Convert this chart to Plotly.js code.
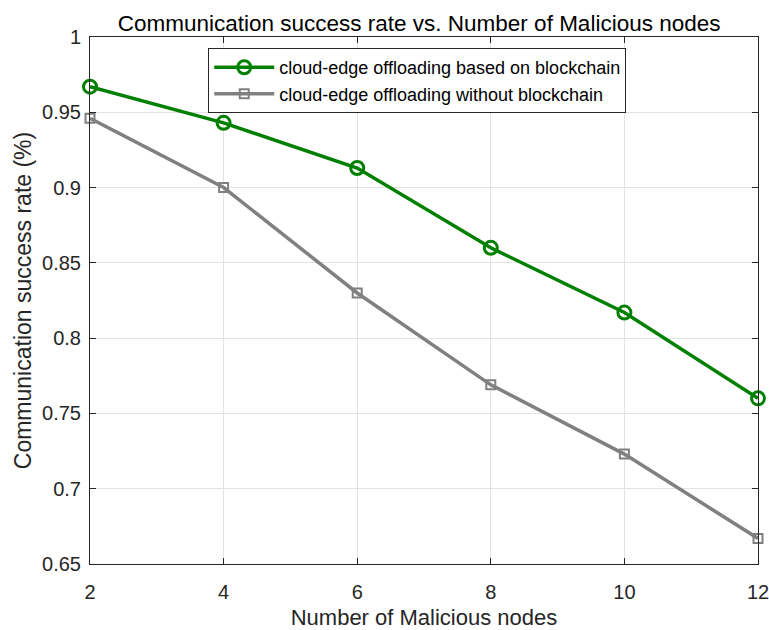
<!DOCTYPE html>
<html>
<head>
<meta charset="utf-8">
<script src="https://cdn.plot.ly/plotly-3.0.1.min.js"></script>
<style>
  html, body { margin: 0; padding: 0; background: #fff; }
  #chart { width: 769px; height: 630px; }
</style>
</head>
<body>
<div id="chart"></div>
<script>
// Number of malicious nodes in the network
const maliciousNodes = [2, 4, 6, 8, 10, 12];
// Communication success rate with blockchain-based offloading
const withBlockchain = [0.967, 0.943, 0.913, 0.860, 0.817, 0.760];
// Communication success rate without blockchain
const withoutBlockchain = [0.946, 0.900, 0.830, 0.769, 0.723, 0.667];

const xTicks = [2, 4, 6, 8, 10, 12];
const yTicks = [0.65, 0.7, 0.75, 0.8, 0.85, 0.9, 0.95, 1];
const yTickText = ['0.65', '0.7', '0.75', '0.8', '0.85', '0.9', '0.95', '1'];

const fontFamily = 'Arial, "Liberation Sans", Helvetica, sans-serif';

const traces = [
  {
    x: maliciousNodes,
    y: withBlockchain,
    name: 'cloud-edge offloading based on blockchain',
    mode: 'lines+markers',
    line: { color: '#008000', width: 3.5 },
    marker: { symbol: 'circle-open', size: 13, color: '#008000', line: { width: 3, color: '#008000' } },
    cliponaxis: false
  },
  {
    x: maliciousNodes,
    y: withoutBlockchain,
    name: 'cloud-edge offloading without blockchain',
    mode: 'lines+markers',
    line: { color: '#808080', width: 3.5 },
    marker: { symbol: 'square-open', size: 9, color: '#808080', line: { width: 2, color: '#808080' } },
    cliponaxis: false
  }
];

const axisCommon = {
  showline: true,
  linecolor: '#262626',
  linewidth: 1,
  mirror: 'ticks',
  ticks: 'inside',
  ticklen: 6,
  tickcolor: '#262626',
  showgrid: true,
  gridcolor: '#e3e3e3',
  gridwidth: 1,
  zeroline: false,
  ticklabeloverflow: 'allow',
  tickfont: { family: fontFamily, size: 20, color: '#262626' }
};

const layout = {
  width: 769,
  height: 630,
  margin: { l: 90, r: 11, t: 37, b: 66 },
  paper_bgcolor: '#ffffff',
  plot_bgcolor: '#ffffff',
  font: { family: fontFamily, color: '#262626' },
  title: {
    text: 'Communication success rate vs. Number of Malicious nodes',
    font: { family: fontFamily, size: 22.5, color: '#000000' },
    x: 0.545, xanchor: 'center',
    y: 0.964, yanchor: 'middle'
  },
  xaxis: Object.assign({}, axisCommon, {
    range: [2, 12],
    tickmode: 'array',
    tickvals: xTicks,
    ticklabelstandoff: 10,
    title: { text: 'Number of Malicious nodes', font: { family: fontFamily, size: 22, color: '#262626' }, standoff: 8 }
  }),
  yaxis: Object.assign({}, axisCommon, {
    range: [0.65, 1],
    tickmode: 'array',
    tickvals: yTicks,
    ticktext: yTickText,
    ticklabelstandoff: 4,
    title: { text: 'Communication success rate (%)', font: { family: fontFamily, size: 23, color: '#262626' }, standoff: 4 }
  }),
  showlegend: true,
  legend: {
    x: 0.177, y: 0.979,
    xanchor: 'left', yanchor: 'top',
    bgcolor: '#ffffff',
    bordercolor: '#262626',
    borderwidth: 1,
    font: { family: fontFamily, size: 18, color: '#000000' },
    tracegroupgap: 0,
    itemwidth: 60
  }
};

Plotly.newPlot('chart', traces, layout, { displayModeBar: false, staticPlot: true });
</script>
</body>
</html>
